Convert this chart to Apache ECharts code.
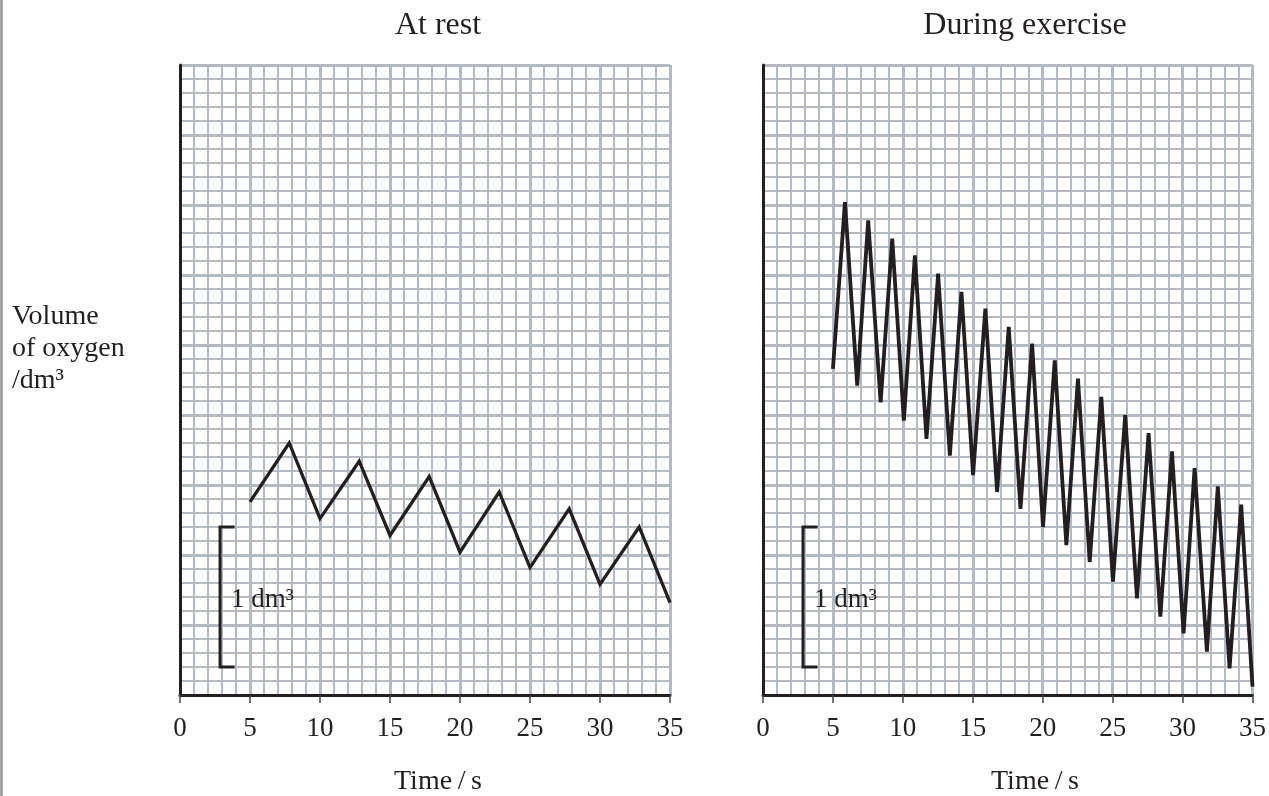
<!DOCTYPE html>
<html>
<head>
<meta charset="utf-8">
<script src="https://cdn.jsdelivr.net/npm/echarts@6/dist/echarts.min.js"></script>
<style>
  html, body { margin: 0; padding: 0; background: #fff; }
  #chart { width: 1269px; height: 796px; }
</style>
</head>
<body>
<div id="chart"></div>
<script>
// At rest: time (s) and volume of oxygen (dm3)
const restTime = [5, 7.8, 10, 12.8, 15, 17.8, 20, 22.8, 25, 27.8, 30, 32.8, 35]
const restVolume = [1.38, 1.80, 1.26, 1.67, 1.14, 1.56, 1.02, 1.45, 0.91, 1.33, 0.79, 1.20, 0.66]

// During exercise
const exerciseTime = [5.0, 5.86, 6.74, 7.52, 8.41, 9.24, 10.07, 10.86, 11.69, 12.52, 13.36, 14.19,
  15.02, 15.9, 16.74, 17.57, 18.41, 19.24, 20.02, 20.86, 21.69, 22.52, 23.36, 24.19, 25.02, 25.9,
  26.74, 27.57, 28.41, 29.24, 30.07, 30.86, 31.74, 32.52, 33.36, 34.19, 35]
const exerciseVolume = [2.33, 3.52, 2.21, 3.39, 2.09, 3.26, 1.96, 3.14, 1.83, 3.01, 1.71, 2.88,
  1.57, 2.76, 1.45, 2.63, 1.33, 2.51, 1.20, 2.39, 1.07, 2.26, 0.95, 2.13, 0.81, 2.00,
  0.69, 1.87, 0.56, 1.74, 0.44, 1.62, 0.31, 1.49, 0.19, 1.36, 0.06]

// 1 dm3 scale bracket
const scaleBarX = [3.9, 2.86, 2.86, 3.9]
const scaleBarY = [1.2, 1.2, 0.2, 0.2]
const scaleLabelPos = [3.64, 0.68]

const panelTitles = ['At rest', 'During exercise']
const xName = 'Time\u2009/\u2009s'
const yName = 'Volume\nof oxygen\n/dm³'
const scaleText = '1 dm³'

const ink = '#231f20'
const gridGray = '#b4bac1'
const serif = "'Liberation Serif', 'Times New Roman', serif"

const zip = (xs, ys) => xs.map((x, i) => [x, ys[i]])

const makeX = (gridIndex) => ({
  type: 'value',
  gridIndex,
  min: 0,
  max: 35,
  interval: 5,
  axisLine: { show: true, onZero: false, lineStyle: { color: ink, width: 3 } },
  axisTick: { show: true, length: 8, lineStyle: { color: '#444', width: 1.5 } },
  axisLabel: { color: ink, fontFamily: serif, fontSize: 27, margin: 20 },
  splitLine: { show: true, lineStyle: { color: gridGray, width: 3 } },
  minorTick: { show: false, splitNumber: 5 },
  minorSplitLine: { show: true, lineStyle: { color: gridGray, width: 2 } }
})

const makeY = (gridIndex) => ({
  type: 'value',
  gridIndex,
  min: 0,
  max: 4.5,
  interval: 0.5,
  axisLine: { show: true, onZero: false, lineStyle: { color: ink, width: 3 } },
  axisTick: { show: false },
  axisLabel: { show: false },
  splitLine: { show: true, lineStyle: { color: gridGray, width: 3 } },
  minorTick: { show: false, splitNumber: 5 },
  minorSplitLine: { show: true, lineStyle: { color: gridGray, width: 2 } }
})

const traceSeries = (idx, xs, ys, width) => ({
  type: 'line',
  xAxisIndex: idx,
  yAxisIndex: idx,
  data: zip(xs, ys),
  symbol: 'none',
  clip: false,
  lineStyle: { color: ink, width, join: 'miter', miterLimit: 14 },
  z: 5
})

const bracketSeries = (idx) => ({
  type: 'line',
  xAxisIndex: idx,
  yAxisIndex: idx,
  data: zip(scaleBarX, scaleBarY),
  symbol: 'none',
  lineStyle: { color: ink, width: 3, join: 'miter' },
  z: 5
})

const textEl = (x, y, text, size, align, vAlign) => ({
  type: 'text',
  x,
  y,
  z: 10,
  style: {
    text,
    fill: ink,
    font: size + 'px ' + serif,
    textAlign: align,
    textVerticalAlign: vAlign,
    lineHeight: 32
  }
})

const chart = echarts.init(document.getElementById('chart'))
chart.setOption({
  backgroundColor: '#fff',
  animation: false,
  grid: [
    { left: 180, top: 65, width: 490, height: 630 },
    { left: 763, top: 65, width: 490, height: 630 }
  ],
  xAxis: [makeX(0), makeX(1)],
  yAxis: [makeY(0), makeY(1)],
  series: [
    traceSeries(0, restTime, restVolume, 3.3),
    traceSeries(1, exerciseTime, exerciseVolume, 3.8),
    bracketSeries(0),
    bracketSeries(1)
  ]
})

// place the "1 dm3" labels in data coordinates of each panel
const labelEls = [0, 1].map((idx) => {
  const p = chart.convertToPixel({ gridIndex: idx }, scaleLabelPos)
  return textEl(p[0], p[1], scaleText, 27, 'left', 'middle')
})

chart.setOption({
  graphic: [
    { type: 'rect', shape: { x: 0, y: 0, width: 3, height: 796 }, style: { fill: '#a4a4a4' } },
    textEl(438, 26, panelTitles[0], 32, 'center', 'middle'),
    textEl(1025, 26, panelTitles[1], 32, 'center', 'middle'),
    textEl(438, 782, xName, 28, 'center', 'middle'),
    textEl(1035, 782, xName, 28, 'center', 'middle'),
    textEl(12, 301, yName, 28, 'left', 'top'),
    ...labelEls
  ]
})
</script>
</body>
</html>
